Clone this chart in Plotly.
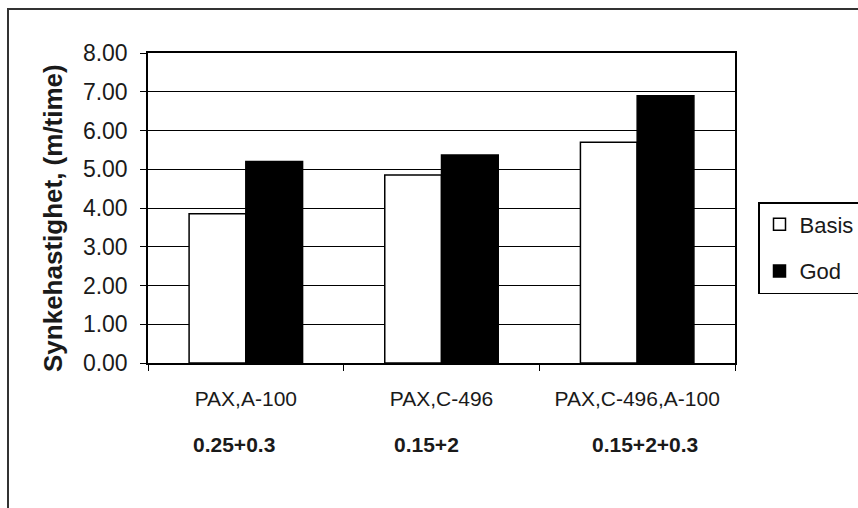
import plotly.graph_objects as go

# Settling speed per coagulant combination
categories = ["PAX,A-100", "PAX,C-496", "PAX,C-496,A-100"]
doses = ["0.25+0.3", "0.15+2", "0.15+2+0.3"]
basis = [3.85, 4.85, 5.70]
god = [5.20, 5.37, 6.90]
y_ticks = [0, 1, 2, 3, 4, 5, 6, 7, 8]

FONT = "Liberation Sans, Arial, sans-serif"
TEXT = "#1a1a1a"

fig = go.Figure()
fig.add_trace(go.Bar(name="Basis", x=categories, y=basis, legendgroup="a",
                     marker=dict(color="white", line=dict(color="black", width=1.5))))
fig.add_trace(go.Bar(name="God", x=categories, y=god, legendgroup="b",
                     marker=dict(color="black", line=dict(color="black", width=1.5))))

# plot area in pixels: left 148, right 735, top 53, bottom 363
W, H = 858, 508
L, R, T, B = 148, 735, 53, 363

def px(xp):
    return (xp - L) / (R - L)

def py(yp):
    return (B - yp) / (B - T)

fig.update_layout(
    width=W, height=H,
    margin=dict(l=L, r=W - R, t=T, b=H - B, autoexpand=False),
    paper_bgcolor="white", plot_bgcolor="white",
    barmode="group", bargap=0.42, bargroupgap=0,
    font=dict(family=FONT, size=21, color=TEXT),
    showlegend=True,
    legend=dict(x=px(758), y=py(202), xanchor="left", yanchor="top",
                bordercolor="black", borderwidth=1.5, bgcolor="white",
                font=dict(size=22), tracegroupgap=15, itemwidth=30),
    xaxis=dict(type="category", showline=True, linecolor="black", linewidth=1.5,
               mirror=True, ticks="outside", tickson="boundaries", ticklen=6,
               tickcolor="black", showgrid=False, tickfont=dict(size=21),
               ticklabelstandoff=16),
    yaxis=dict(range=[0, 8], tickvals=y_ticks, tickformat=".2f",
               showline=True, linecolor="black", linewidth=1.5, mirror=True,
               ticks="outside", ticklen=6, tickcolor="black",
               showgrid=True, gridcolor="black", gridwidth=1,
               zeroline=False, tickfont=dict(size=23), ticklabelstandoff=8),
)

# y-axis title
fig.add_annotation(text="<b>Synkehastighet, (m/time)</b>", textangle=-90,
                   xref="paper", yref="paper", x=px(53), y=py(218),
                   xanchor="center", yanchor="middle",
                   showarrow=False, font=dict(size=26, family=FONT, color=TEXT))

# dose labels beneath the category names
offsets = [-12, -15, 8]
for cat, d, off in zip(categories, doses, offsets):
    fig.add_annotation(text="<b>" + d + "</b>", xref="x", yref="paper",
                       x=cat, y=py(444), xshift=off, yanchor="middle",
                       showarrow=False,
                       font=dict(size=21, family=FONT, color=TEXT))

# chart area border (extends past the right and bottom edges)
fig.add_shape(type="rect", xref="paper", yref="paper",
              x0=px(8), x1=px(880), y0=py(530), y1=py(9),
              line=dict(color="#333333", width=2), fillcolor="rgba(0,0,0,0)",
              layer="below")

fig.write_html("out.html")
